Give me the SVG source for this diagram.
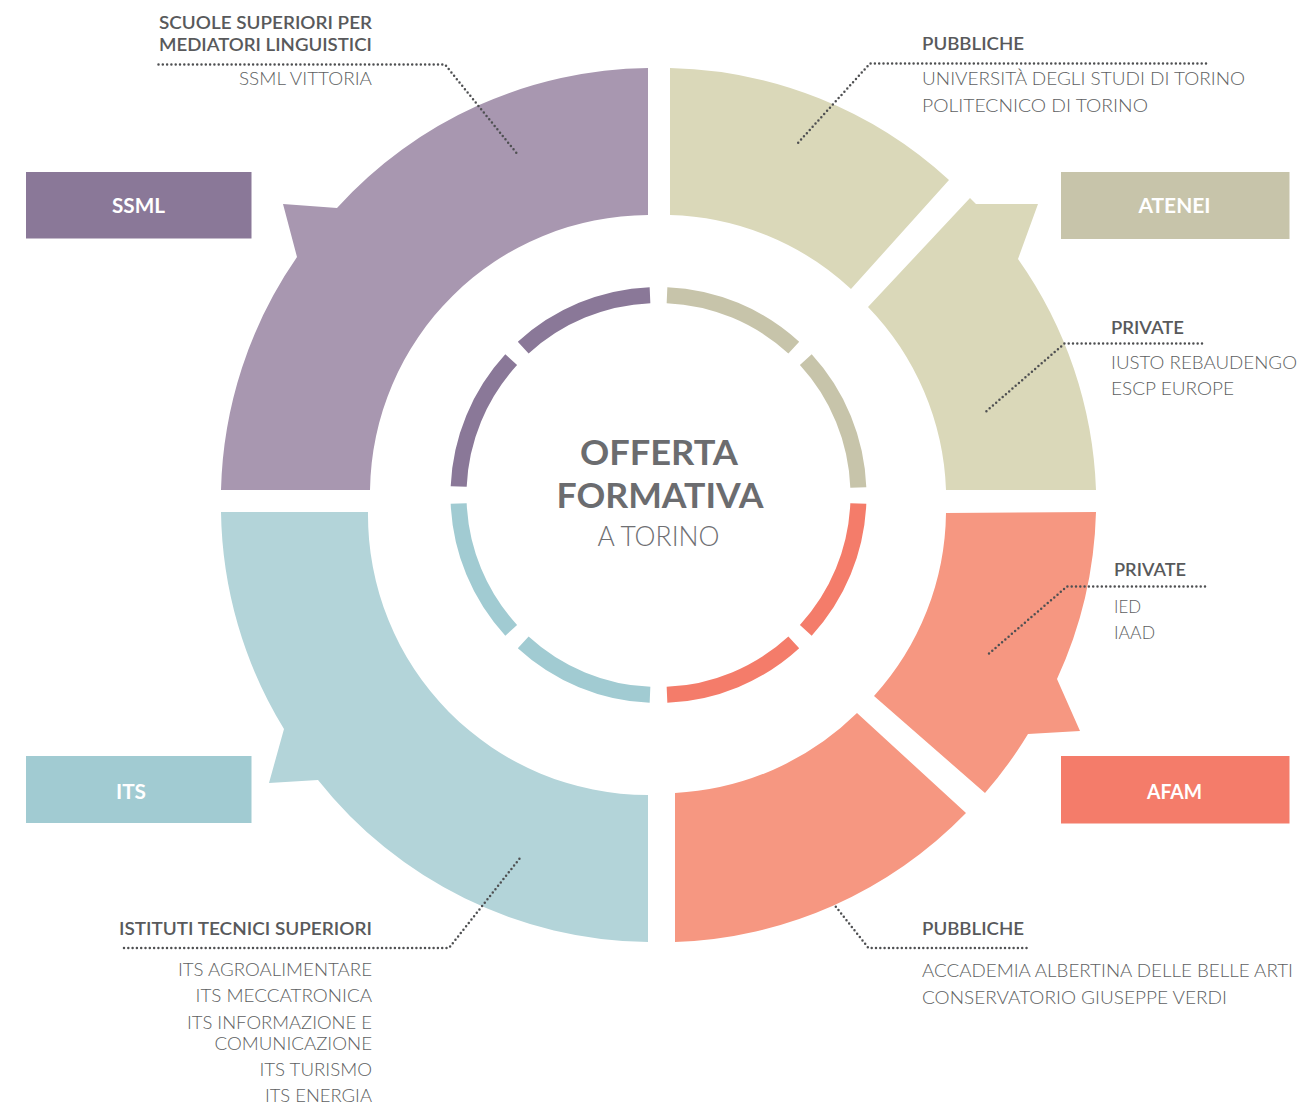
<svg xmlns="http://www.w3.org/2000/svg" width="1300" height="1107" viewBox="0 0 1300 1107">
<style>
.hdr{font-family:Lato,"Open Sans","Liberation Sans",sans-serif;font-weight:600;font-size:18px;fill:#58595b}
.itm{font-family:Lato,"Open Sans","Liberation Sans",sans-serif;font-weight:300;font-size:18px;fill:#5e5f62}
.box{font-family:Lato,"Open Sans","Liberation Sans",sans-serif;font-weight:700;font-size:20px;fill:#ffffff}
.ctr{font-family:Lato,"Open Sans","Liberation Sans",sans-serif;font-weight:700;font-size:35px;fill:#6b6c6f}
.ctr2{font-family:Lato,"Open Sans","Liberation Sans",sans-serif;font-weight:300;font-size:27px;fill:#6f7073}
.ring{fill:none;stroke-width:16}
.dot{fill:none;stroke:#4f5052;stroke-width:2.5;stroke-linecap:round;stroke-dasharray:0 4.3}
</style>
<rect width="1300" height="1107" fill="#ffffff"/>

<g id="ring-inner">
<path class="ring" stroke="#c7c4aa" d="M667,295.18 A200,200 0 0 1 793.79,347.7 M805.8,359.71 A200,200 0 0 1 858.32,487.5"/>
<path class="ring" stroke="#f47c6a" d="M858.32,503.5 A200,200 0 0 1 805.8,630.29 M793.79,642.3 A200,200 0 0 1 667,694.82"/>
<path class="ring" stroke="#a1cbd2" d="M650,694.82 A200,200 0 0 1 523.21,642.3 M511.2,630.29 A200,200 0 0 1 458.68,503.5"/>
<path class="ring" stroke="#8a7898" d="M458.68,486.5 A200,200 0 0 1 511.2,359.71 M523.21,347.7 A200,200 0 0 1 650,295.18"/>
</g>

<g id="ssml-sector">
<path fill="#a897b0" d="M221,490 A427,427 0 0 1 297,257 L283,204 L337,208 A427,427 0 0 1 648,68 L648,215 A279,279 0 0 0 370,490 Z"/>
</g>
<g id="its-sector">
<path fill="#b3d4d9" d="M221,512 L368,512 A280,280 0 0 0 648,795 L648,942 A427,427 0 0 1 318,780 L269,783 L284,729 A427,427 0 0 1 221,512 Z"/>
</g>
<g id="atenei-pubbliche">
<path fill="#dad8b9" d="M670,68 A426,426 0 0 1 949,180 L851,289 A277,277 0 0 0 670,215 Z"/>
</g>
<g id="atenei-private">
<path fill="#dad8b9" d="M868,307 L970,198 L976,204 L1038,204 L1018,259 A426,426 0 0 1 1096,490 L946,490 A277,277 0 0 0 868,307 Z"/>
</g>
<g id="afam-private">
<path fill="#f69781" d="M946,513 L1096,512 A426,426 0 0 1 1057,679 L1080,731 L1028,734 A426,426 0 0 1 985,793 L874,696 A277,277 0 0 0 946,513 Z"/>
</g>
<g id="afam-pubbliche">
<path fill="#f69781" d="M857,713 L966,813 A426,426 0 0 1 675,942 L675,793 A280,280 0 0 0 857,713 Z"/>
</g>

<g id="center">
<text class="ctr" x="659" y="465" text-anchor="middle" textLength="158" lengthAdjust="spacingAndGlyphs">OFFERTA</text>
<text class="ctr" x="660" y="507.5" text-anchor="middle" textLength="207" lengthAdjust="spacingAndGlyphs">FORMATIVA</text>
<text class="ctr2" x="658.5" y="546" text-anchor="middle" textLength="122" lengthAdjust="spacingAndGlyphs">A TORINO</text>
</g>

<g id="box-ssml">
<rect x="26" y="172" width="225.5" height="66.5" fill="#8a7898"/>
<text class="box" x="138.5" y="212.5" text-anchor="middle" textLength="53" lengthAdjust="spacingAndGlyphs">SSML</text>
</g>
<g id="box-atenei">
<rect x="1061" y="172" width="228.5" height="67" fill="#c7c4aa"/>
<text class="box" x="1174.5" y="212.5" text-anchor="middle" textLength="72" lengthAdjust="spacingAndGlyphs">ATENEI</text>
</g>
<g id="box-its">
<rect x="26" y="756" width="225.5" height="67" fill="#a1cbd2"/>
<text class="box" x="131" y="799" text-anchor="middle" textLength="30" lengthAdjust="spacingAndGlyphs">ITS</text>
</g>
<g id="box-afam">
<rect x="1061" y="756" width="228.5" height="67.5" fill="#f47c6a"/>
<text class="box" x="1174.5" y="798.5" text-anchor="middle" textLength="55" lengthAdjust="spacingAndGlyphs">AFAM</text>
</g>

<g id="connectors">
<polyline class="dot" points="158.5,64.5 445,64.5 518.5,155.5"/>
<polyline class="dot" points="1206,63.5 870,63.5 797,144"/>
<polyline class="dot" points="1202,343.5 1064.5,343.5 986,411.5"/>
<polyline class="dot" points="1205,586.5 1067,586.5 989,653.5"/>
<polyline class="dot" points="1026.5,948 868.5,948 834.5,905"/>
<polyline class="dot" points="124,948 449,948 520.5,857.5"/>
</g>

<g id="label-ssml">
<text class="hdr" x="372" y="29.3" text-anchor="end" textLength="213" lengthAdjust="spacingAndGlyphs">SCUOLE SUPERIORI PER</text>
<text class="hdr" x="372" y="50.7" text-anchor="end" textLength="213" lengthAdjust="spacingAndGlyphs">MEDIATORI LINGUISTICI</text>
<text class="itm" x="372" y="85" text-anchor="end" textLength="133" lengthAdjust="spacingAndGlyphs">SSML VITTORIA</text>
</g>
<g id="label-atenei-pubbliche">
<text class="hdr" x="922" y="50" textLength="102" lengthAdjust="spacingAndGlyphs">PUBBLICHE</text>
<text class="itm" x="922" y="85" textLength="323" lengthAdjust="spacingAndGlyphs">UNIVERSITÀ DEGLI STUDI DI TORINO</text>
<text class="itm" x="922" y="111.7" textLength="226" lengthAdjust="spacingAndGlyphs">POLITECNICO DI TORINO</text>
</g>
<g id="label-atenei-private">
<text class="hdr" x="1111" y="334" textLength="73" lengthAdjust="spacingAndGlyphs">PRIVATE</text>
<text class="itm" x="1111" y="369.3" textLength="186" lengthAdjust="spacingAndGlyphs">IUSTO REBAUDENGO</text>
<text class="itm" x="1111" y="395" textLength="123" lengthAdjust="spacingAndGlyphs">ESCP EUROPE</text>
</g>
<g id="label-afam-private">
<text class="hdr" x="1114" y="576" textLength="72" lengthAdjust="spacingAndGlyphs">PRIVATE</text>
<text class="itm" x="1114" y="613.3" textLength="27" lengthAdjust="spacingAndGlyphs">IED</text>
<text class="itm" x="1114" y="639.3" textLength="41" lengthAdjust="spacingAndGlyphs">IAAD</text>
</g>
<g id="label-afam-pubbliche">
<text class="hdr" x="922" y="935" textLength="102" lengthAdjust="spacingAndGlyphs">PUBBLICHE</text>
<text class="itm" x="922" y="977.3" textLength="371" lengthAdjust="spacingAndGlyphs">ACCADEMIA ALBERTINA DELLE BELLE ARTI</text>
<text class="itm" x="922" y="1004" textLength="305" lengthAdjust="spacingAndGlyphs">CONSERVATORIO GIUSEPPE VERDI</text>
</g>
<g id="label-its">
<text class="hdr" x="372" y="935" text-anchor="end" textLength="253" lengthAdjust="spacingAndGlyphs">ISTITUTI TECNICI SUPERIORI</text>
<text class="itm" x="372" y="976" text-anchor="end" textLength="194" lengthAdjust="spacingAndGlyphs">ITS AGROALIMENTARE</text>
<text class="itm" x="372" y="1002.3" text-anchor="end" textLength="176.5" lengthAdjust="spacingAndGlyphs">ITS MECCATRONICA</text>
<text class="itm" x="372" y="1029.3" text-anchor="end" textLength="185" lengthAdjust="spacingAndGlyphs">ITS INFORMAZIONE E</text>
<text class="itm" x="372" y="1050" text-anchor="end" textLength="157.5" lengthAdjust="spacingAndGlyphs">COMUNICAZIONE</text>
<text class="itm" x="372" y="1076" text-anchor="end" textLength="112.5" lengthAdjust="spacingAndGlyphs">ITS TURISMO</text>
<text class="itm" x="372" y="1102.3" text-anchor="end" textLength="107" lengthAdjust="spacingAndGlyphs">ITS ENERGIA</text>
</g>
</svg>
